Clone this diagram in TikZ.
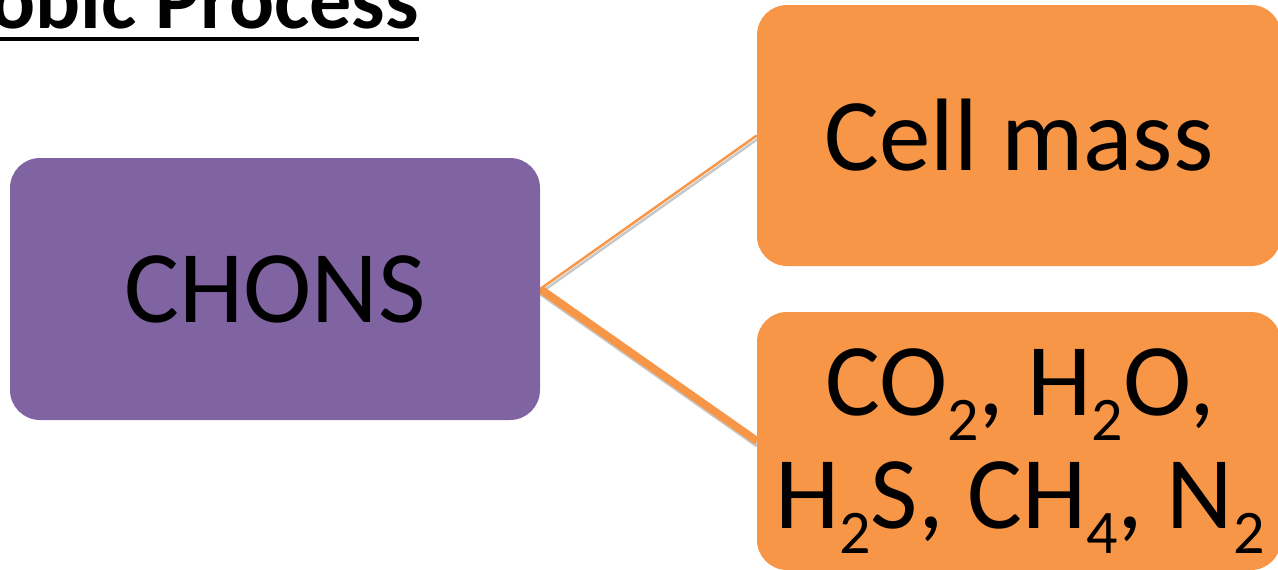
\documentclass[tikz,border=0pt]{standalone}
\usepackage{fontspec}
\setmainfont{Carlito}
\usetikzlibrary{backgrounds}
\definecolor{boxorange}{HTML}{F79646}
\definecolor{boxpurple}{HTML}{8064A2}
\newcommand{\sbs}[1]{\raisebox{-25pt}{\fontsize{62}{62}\selectfont #1}}
\begin{document}
\begin{tikzpicture}[x=1pt,y=-1pt,
  boxbase/.style={rectangle, rounded corners=30pt, inner sep=0pt, text=black,
    font=\fontsize{103}{104}\selectfont},
  purplebox/.style={boxbase, fill=boxpurple, minimum width=530pt, minimum height=262pt},
  orangebox/.style={boxbase, fill=boxorange, minimum width=524pt},
  boxtext/.style={inner sep=0pt, text=black, font=\fontsize{103}{104}\selectfont},
  connline/.style={draw=boxorange, line cap=butt},
  shadowline/.style={draw=black, opacity=0.22, line cap=butt}]
\useasboundingbox (0,0) rectangle (1278,570);
\node[purplebox] (chons) at (275,289) {CHONS};
\node[orangebox, minimum height=261pt] (cell) at (1019,135.5) {Cell mass};
\node[orangebox, minimum height=258pt] (gas) at (1019,441) {};
\node[boxtext, anchor=base] (gastext) at (1020,415) {\begin{tabular}[t]{@{}c@{}}CO\sbs{2}, H\sbs{2}O,\\[9pt]H\sbs{2}S, CH\sbs{4}, N\sbs{2}\end{tabular}};
\begin{scope}[on background layer]
  \draw[shadowline, line width=2.5pt] ([shift={(1.5pt,-3pt)}]chons.east) -- ([shift={(1.5pt,-3pt)}]cell.west);
  \draw[shadowline, line width=8pt] ([shift={(1.5pt,-3pt)}]chons.east) -- ([shift={(1.5pt,-3pt)}]gas.west);
  \draw[connline, line width=2.5pt] (chons.east) -- (cell.west);
  \draw[connline, line width=8pt] (chons.east) -- (gas.west);
\end{scope}
\node[font=\fontsize{84}{84}\selectfont\bfseries, anchor=base east, inner sep=0pt] (title) at (419,28) {obic Process};
\draw[line width=4.5pt] ([yshift=-11pt]title.base west) -- ([yshift=-11pt]title.base east);
\end{tikzpicture}
\end{document}
